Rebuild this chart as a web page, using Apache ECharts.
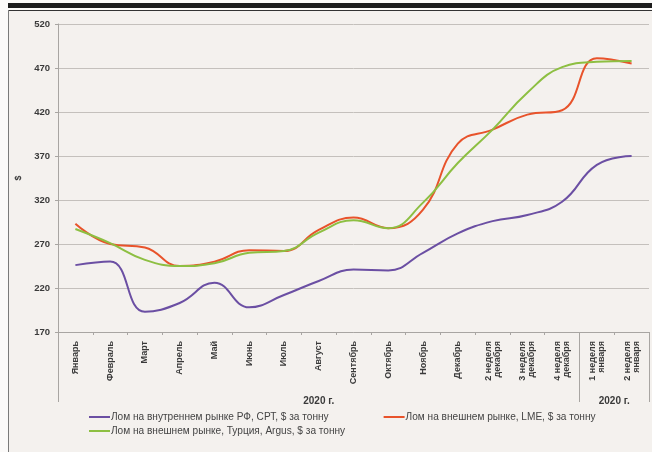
<!DOCTYPE html>
<html>
<head>
<meta charset="utf-8">
<script src="https://cdn.jsdelivr.net/npm/echarts@6/dist/echarts.min.js"></script>
<style>
  html, body { margin: 0; padding: 0; width: 652px; height: 452px; overflow: hidden; background: #fbfaf9; }
  #bg { position: absolute; left: 8px; top: 10px; width: 644px; height: 442px; background: #f4f1ee; }
  #thick { position: absolute; left: 8px; top: 3px; width: 644px; height: 5px; background: #1c1c1c; }
  #thin { position: absolute; left: 8px; top: 10px; width: 644px; height: 1px; background: #333; }
  #leftline { position: absolute; left: 8px; top: 10px; width: 1px; height: 442px; background: #7a7a7a; }
  #chart { position: absolute; left: 0; top: 0; width: 652px; height: 452px; }
</style>
</head>
<body>
<div id="bg"></div>
<div id="thick"></div>
<div id="thin"></div>
<div id="leftline"></div>
<div id="chart"></div>
<script>
const categories = ['Январь','Февраль','Март','Апрель','Май','Июнь','Июль','Август','Сентябрь','Октябрь','Ноябрь','Декабрь','2 неделя\nдекабря','3 неделя\nдекабря','4 неделя\nдекабря','1 неделя\nянваря','2 неделя\nянваря'];
const groupLabels = ['2020 г.', '2020 г.'];
const seriesNames = ['Лом на внутреннем рынке РФ, СРТ, $ за тонну', 'Лом на внешнем рынке, LME, $ за тонну', 'Лом на внешнем рынке, Турция, Argus, $ за тонну'];
const cptValues = [246, 250, 193, 203, 226, 198, 212, 228, 241, 240, 260, 282, 296, 303, 318, 360, 370];
const lmeValues = [293, 270, 266, 245, 250, 263, 262, 286, 300, 288, 309, 384, 400, 417, 422, 481, 475];
const argusValues = [287, 271, 252, 245, 248, 260, 262, 283, 297, 288, 317, 362, 400, 442, 471, 477, 478];
const yTicks = [170, 220, 270, 320, 370, 420, 470, 520];

const font = '"Liberation Sans", Arial, sans-serif';
const chart = echarts.init(document.getElementById('chart'), null, { renderer: 'canvas' });
const colors = ['#6b4fa3', '#e8532b', '#8dbf42'];
const legendText = { fontFamily: font, fontSize: 10.1, color: '#444', padding: [0, 0, 0, -4] };

chart.setOption({
  animation: false,
  backgroundColor: 'transparent',
  color: colors,
  grid: { left: 58, right: 3, top: 24, bottom: 120, containLabel: false },
  legend: [
    {
      data: [seriesNames[0], seriesNames[1]],
      left: 89, top: 412, padding: 0, itemGap: 55, itemWidth: 21, itemHeight: 2, icon: 'rect',
      textStyle: legendText
    },
    {
      data: [seriesNames[2]],
      left: 89, top: 426, padding: 0, itemWidth: 21, itemHeight: 2, icon: 'rect',
      textStyle: legendText
    }
  ],
  xAxis: [
    {
      type: 'category',
      data: categories,
      boundaryGap: true,
      axisLine: { lineStyle: { color: '#a8a5a2', width: 1 } },
      axisTick: { show: true, interval: 0, length: 3, lineStyle: { color: '#a8a5a2' } },
      axisLabel: {
        interval: 0, rotate: 90, margin: 9,
        fontFamily: font, fontSize: 9, fontWeight: 'bold', color: '#3a3a3a', lineHeight: 9
      },
      splitLine: { show: false }
    },
    {
      type: 'value',
      min: 0, max: categories.length,
      position: 'bottom',
      offset: 70,
      axisLine: { show: false },
      axisTick: {
        show: true, inside: true, length: 70,
        customValues: [0, 15, 17],
        lineStyle: { color: '#a8a5a2', width: 1 }
      },
      axisLabel: {
        show: true,
        customValues: [7.5, 16],
        formatter: function (v) { return v < 15 ? groupLabels[0] : groupLabels[1]; },
        inside: true, margin: -4,
        fontFamily: font, fontSize: 10, fontWeight: 'bold', color: '#3a3a3a'
      },
      splitLine: { show: false }
    }
  ],
  yAxis: {
    type: 'value',
    min: 170, max: 520, interval: 50,
    name: '$',
    nameLocation: 'middle',
    nameGap: 34,
    nameRotate: 90,
    nameTextStyle: { fontFamily: font, fontSize: 9, fontWeight: 'bold', color: '#3a3a3a' },
    axisLine: { show: true, lineStyle: { color: '#a8a5a2', width: 1 } },
    axisTick: { show: true, length: 3, lineStyle: { color: '#a8a5a2' } },
    axisLabel: { margin: 8, fontFamily: font, fontSize: 9.5, fontWeight: 'bold', color: '#3a3a3a' },
    splitLine: { show: true, lineStyle: { color: '#c4c0bc', width: 1 } }
  },
  series: [
    { name: seriesNames[0], type: 'line', data: cptValues, smooth: 0.45, symbol: 'none', lineStyle: { width: 2, color: colors[0] } },
    { name: seriesNames[1], type: 'line', data: lmeValues, smooth: 0.45, symbol: 'none', lineStyle: { width: 2, color: colors[1] } },
    { name: seriesNames[2], type: 'line', data: argusValues, smooth: 0.45, symbol: 'none', lineStyle: { width: 2, color: colors[2] } }
  ]
});
</script>
</body>
</html>
